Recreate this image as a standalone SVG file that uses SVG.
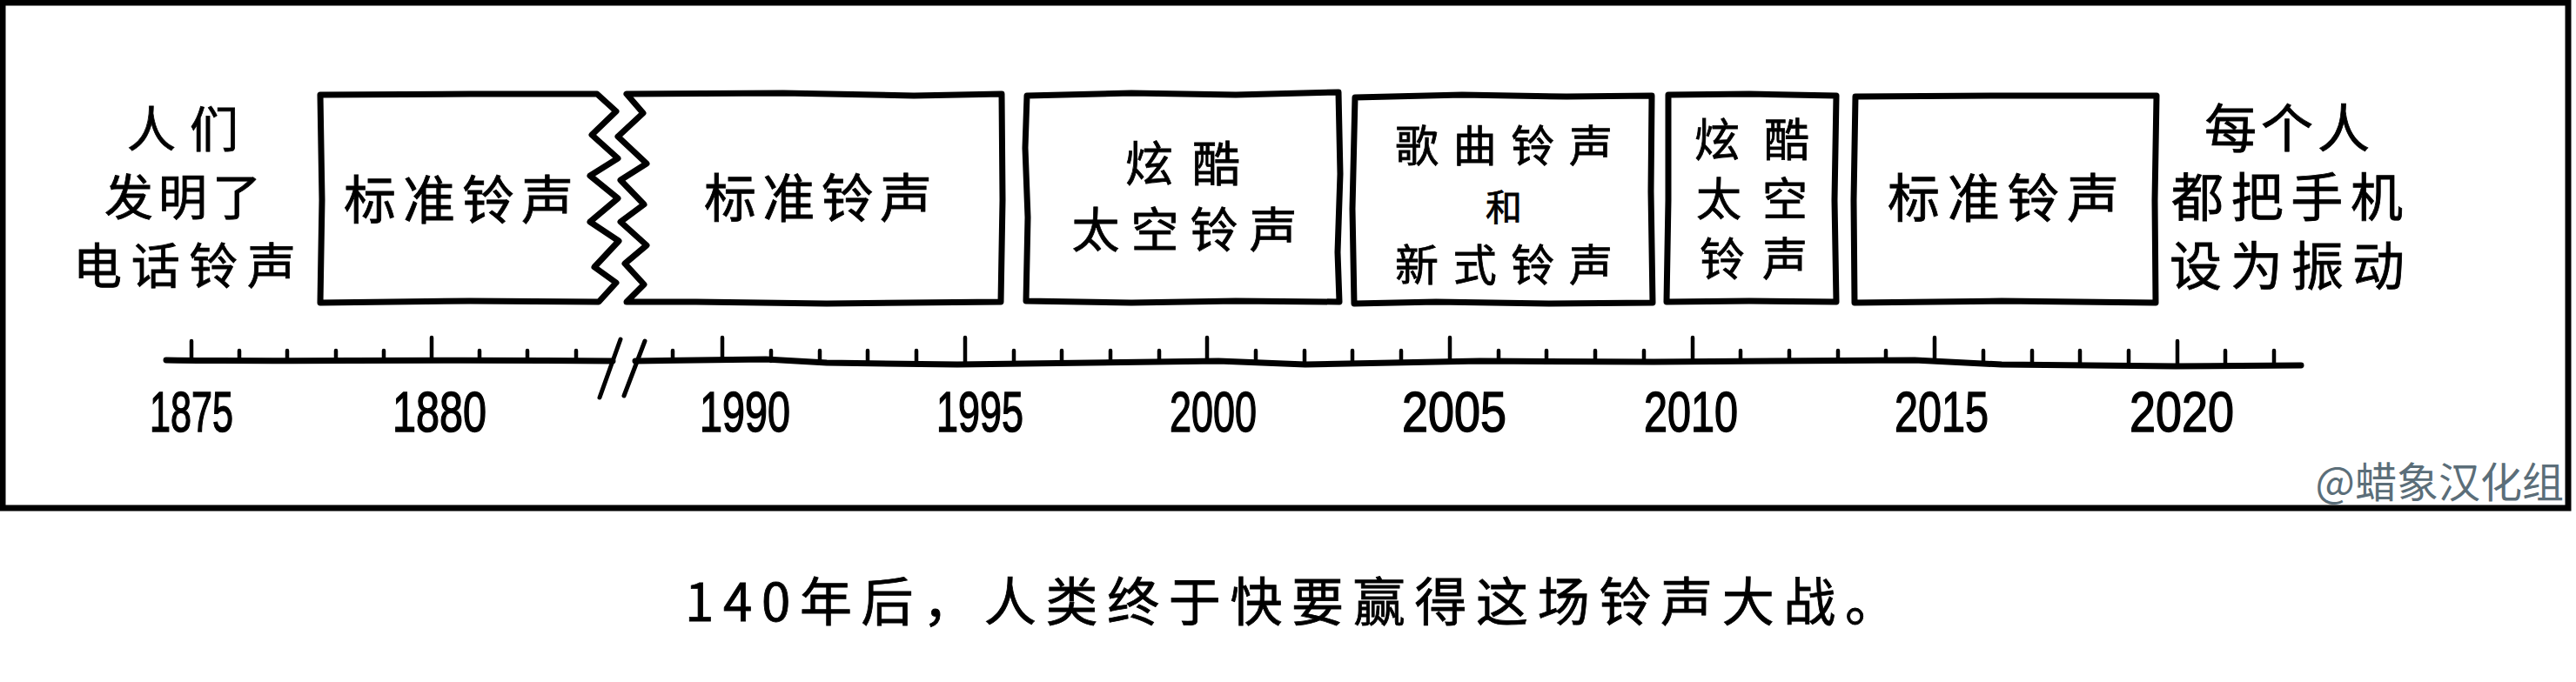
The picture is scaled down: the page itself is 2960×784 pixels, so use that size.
<svg xmlns="http://www.w3.org/2000/svg" width="2960" height="784" viewBox="0 0 2960 784">
<style>
.frame{fill:#fff;stroke:#000;stroke-width:7}
.box{fill:#fff;stroke:#000;stroke-width:7;stroke-linejoin:round;stroke-linecap:round}
.t{font-family:"Noto Sans CJK SC","Noto Sans",sans-serif;font-size:60px;fill:#000;stroke:#000;stroke-width:0.8;text-anchor:middle}
.n{font-size:56px}
.yr{font-family:"Liberation Sans","DejaVu Sans",sans-serif;font-size:64px;fill:#000;stroke:#000;stroke-width:1.5;text-anchor:middle}
.axis{fill:none;stroke:#000;stroke-width:7;stroke-linecap:round;stroke-linejoin:round}
.tick{fill:none;stroke:#000;stroke-width:4.5;stroke-linecap:round}
.wm{font-family:"Noto Sans CJK SC","Noto Sans",sans-serif;font-size:48px;fill:#5b6e79;text-anchor:end}
</style>
<rect width="2960" height="784" fill="#fff"/>
<rect class="frame" x="3" y="3" width="2948" height="581"/>

<g id="note-start">
<text class="t n" x="210" y="169" textLength="128" lengthAdjust="spacing">人们</text>
<text class="t n" x="210" y="247" textLength="180" lengthAdjust="spacing">发明了</text>
<text class="t n" x="212" y="326" textLength="256" lengthAdjust="spacing">电话铃声</text>
</g>

<g id="box-1877">
<path class="box" d="M686,108 L540,108 L368,109 L370,230 L368,348 L540,346 L688,347 L708,325 L683,307 L711,277 L678,255 L710,228 L678,202 L710,182 L680,155 L708,128 Z"/>
<text class="t" x="527" y="252" textLength="264" lengthAdjust="spacing">标准铃声</text>
</g>

<g id="box-1988">
<path class="box" d="M720,108 L900,107 L1050,110 L1151,108 L1152,230 L1150,347 L950,349 L800,347 L720,347 L740,327 L718,303 L743,282 L713,255 L740,235 L713,207 L743,188 L710,157 L739,130 Z"/>
<text class="t" x="940" y="250" textLength="262" lengthAdjust="spacing">标准铃声</text>
</g>

<g id="box-1996">
<path class="box" d="M1180,110 L1300,107 L1420,109 L1538,106 L1540,200 L1537,290 L1539,347 L1420,346 L1300,348 L1179,346 L1181,250 L1178,170 Z"/>
<text class="t" x="1359" y="208" textLength="132" lengthAdjust="spacing" style="font-size:55px">炫酷</text>
<text class="t" x="1361" y="284" textLength="259" lengthAdjust="spacing" style="font-size:55px">太空铃声</text>
</g>

<g id="box-2003">
<path class="box" d="M1557,112 L1680,109 L1800,111 L1898,110 L1897,220 L1899,348 L1780,349 L1650,347 L1556,349 L1554,240 Z"/>
<text class="t" x="1728" y="186" textLength="250" lengthAdjust="spacing" style="font-size:50px">歌曲铃声</text>
<text class="t" x="1728" y="254" style="font-size:42px">和</text>
<text class="t" x="1728" y="323" textLength="250" lengthAdjust="spacing" style="font-size:50px">新式铃声</text>
</g>

<g id="box-2009">
<path class="box" d="M1917,109 L2010,108 L2110,110 L2108,230 L2110,347 L2010,346 L1915,347 L1917,230 Z"/>
<text class="t" x="2013" y="180" textLength="132" lengthAdjust="spacing" style="font-size:52px">炫酷</text>
<text class="t" x="2013" y="248" textLength="128" lengthAdjust="spacing" style="font-size:52px">太空</text>
<text class="t" x="2015" y="317" textLength="124" lengthAdjust="spacing" style="font-size:52px">铃声</text>
</g>

<g id="box-2013">
<path class="box" d="M2132,111 L2300,110 L2478,110 L2476,230 L2477,348 L2300,346 L2131,348 L2130,230 Z"/>
<text class="t" x="2302" y="250" textLength="266" lengthAdjust="spacing">标准铃声</text>
</g>

<g id="note-end">
<text class="t" x="2628" y="170" textLength="190" lengthAdjust="spacing">每个人</text>
<text class="t" x="2628" y="249" textLength="266" lengthAdjust="spacing">都把手机</text>
<text class="t" x="2628" y="328" textLength="270" lengthAdjust="spacing">设为振动</text>
</g>

<g id="timeline">
<path class="axis" d="M191,414 C300,416 500,413 704,415"/>
<path class="axis" d="M730,415 L880,413 L950,417 L1100,419 L1400,415 L1500,419 L1700,415 L1900,416 L2200,414 L2300,419 L2500,421 L2644,420"/>
<path class="axis" d="M713,390 L689,457 M741,392 L717,455" style="stroke-width:5"/>
<path class="tick" d="M220,392V414 M275,403V414 M330,403V414 M386,403V414 M441,403V414 M496,388V414 M551,403V414 M606,403V414 M662,403V414 M773,403V414 M830,388V413 M886,403V415 M942,403V416 M997,403V418 M1053,403V419 M1109,388V418 M1165,403V418 M1220,403V417 M1276,403V416 M1332,403V416 M1387,388V415 M1443,403V416 M1499,403V418 M1554,403V417 M1610,403V416 M1666,388V415 M1722,403V415 M1777,403V415 M1833,403V416 M1889,403V416 M1945,388V415 M2000,403V415 M2056,403V415 M2112,403V414 M2167,403V414 M2223,388V415 M2279,403V417 M2335,403V418 M2390,403V419 M2446,403V420 M2502,392V421 M2557,403V421 M2613,403V420"/>
</g>

<g id="years">
<text class="yr" x="220" y="496" textLength="96" lengthAdjust="spacingAndGlyphs">1875</text>
<text class="yr" x="505" y="496" textLength="108" lengthAdjust="spacingAndGlyphs">1880</text>
<text class="yr" x="856" y="496" textLength="104" lengthAdjust="spacingAndGlyphs">1990</text>
<text class="yr" x="1126" y="496" textLength="100" lengthAdjust="spacingAndGlyphs">1995</text>
<text class="yr" x="1394" y="496" textLength="100" lengthAdjust="spacingAndGlyphs">2000</text>
<text class="yr" x="1671" y="496" textLength="120" lengthAdjust="spacingAndGlyphs">2005</text>
<text class="yr" x="1943" y="496" textLength="108" lengthAdjust="spacingAndGlyphs">2010</text>
<text class="yr" x="2231" y="496" textLength="108" lengthAdjust="spacingAndGlyphs">2015</text>
<text class="yr" x="2507" y="496" textLength="120" lengthAdjust="spacingAndGlyphs">2020</text>
</g>

<text class="wm" x="2946" y="572">@蜡象汉化组</text>

<text id="caption" x="787" y="714" textLength="1393" lengthAdjust="spacing" style="font-family:'Noto Sans CJK SC','Noto Sans',sans-serif;font-size:60px;fill:#000;stroke:#000;stroke-width:0.8">140年后，人类终于快要赢得这场铃声大战。</text>
</svg>
